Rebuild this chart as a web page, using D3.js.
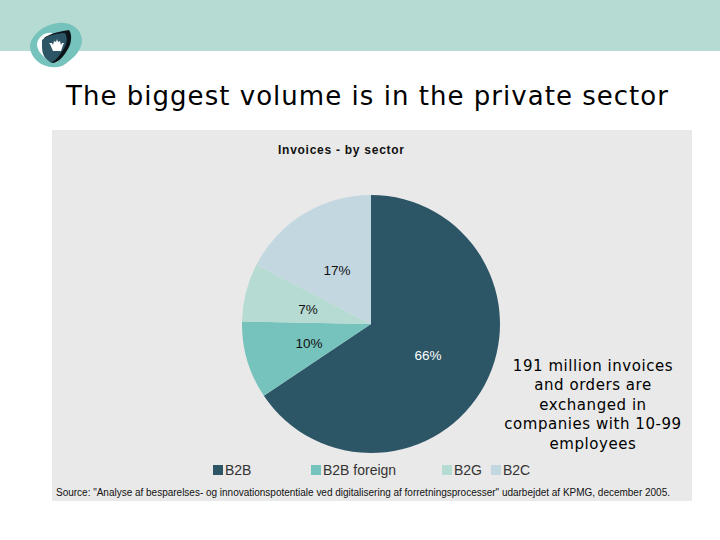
<!DOCTYPE html>
<html><head><meta charset="utf-8">
<script src="https://cdn.jsdelivr.net/npm/d3@7/dist/d3.min.js"></script>
<style>html,body{margin:0;padding:0;background:#fff}svg{display:block}</style></head>
<body><svg id="c" width="720" height="540"></svg>
<script>
const categories = ["B2B","B2B foreign","B2G","B2C"];
const values = [65.6,9.7,7.3,17.4];
const pctLabels = ["66%","10%","7%","17%"];
const colors = ["#2c5566","#76c2bc","#b6dbd3","#c3d7e1"];
const title = "The biggest volume is in the private sector";
const chartTitle = "Invoices  - by sector";
const note = ["191 million invoices","and orders are","exchanged in","companies with 10-99","employees"];
const source = "Source:  \"Analyse af besparelses- og innovationspotentiale ved digitalisering af forretningsprocesser\" udarbejdet af KPMG, december 2005.";
const legendX = [213,311,442,491];
const labelPos = [[428,355],[309,343],[308,309],[337,270]];

const svg = d3.select("#c");
const sans = "'Liberation Sans',Arial,sans-serif", ver = "'DejaVu Sans',Verdana,sans-serif";
svg.append("rect").attr("width",720).attr("height",51).attr("fill","#b6dbd3");
svg.append("rect").attr("x",52).attr("y",130).attr("width",640).attr("height",371).attr("fill","#e9e9e9");

// logo
const logo = svg.append("g");
logo.append("path").attr("d","M30 46C31 36 42 25 58 23C72 21 82 30 82 41C81 52 72 60 62 66C52 69 42 66 36 60C32 56 30 51 30 46Z").attr("fill","#76c2bc");
logo.append("path").attr("d","M37 44C38 37 45 32 52 33L58 62C52 63 47 61 44 57C40 53 37 49 37 44Z").attr("fill","#fff");
logo.append("path").attr("d","M44 38C51 33 62 31 69 30C72 34 72 42 68 49C64 56 59 62 53 63C48 62 45 56 44 50Z").attr("fill","#0b1418");
logo.append("path").attr("d","M42 40C48 35 58 33 65 33C68 38 67 44 63 50C59 56 55 62 51 62C45 60 42 54 42 47Z").attr("fill","#2c5566");
logo.append("path").attr("d","M53 51L50 44L49 43L52 43L53 45L54 41L56 42L57 39L58 42L60 41L61 45L62 43L64 43L63 45L61 51Z").attr("fill","#fff");

svg.append("text").attr("x",66).attr("y",105).attr("font-family",ver).attr("font-size",26).attr("textLength",602).attr("fill","#000").text(title);
svg.append("text").attr("x",278).attr("y",154).attr("font-family",sans).attr("font-size",12).attr("font-weight","bold").attr("fill","#111").attr("textLength",126).text(chartTitle);

const pie = d3.pie().sort(null)(values);
const arc = d3.arc().innerRadius(0).outerRadius(129);
const g = svg.append("g").attr("transform","translate(371,324)");
g.selectAll("path").data(pie).join("path").attr("d",arc).attr("fill",(d,i)=>colors[i]);

svg.selectAll("text.p").data(pctLabels).join("text").attr("class","p")
 .attr("x",(d,i)=>labelPos[i][0]).attr("y",(d,i)=>labelPos[i][1]+4.5)
 .attr("text-anchor","middle").attr("font-family",sans).attr("font-size",13.5)
 .attr("fill",(d,i)=>i==0?"#fff":"#111").text(d=>d);

svg.selectAll("text.n").data(note).join("text").attr("class","n")
 .attr("x",593).attr("y",(d,i)=>371+i*19.4).attr("text-anchor","middle")
 .attr("font-family",ver).attr("font-size",15).attr("letter-spacing","0.55px").attr("fill","#000").text(d=>d);

const lg = svg.selectAll("g.l").data(categories).join("g").attr("class","l").attr("transform",(d,i)=>`translate(${legendX[i]},465)`);
lg.append("rect").attr("width",10).attr("height",10).attr("fill",(d,i)=>colors[i]);
lg.append("text").attr("x",12).attr("y",10).attr("font-family",sans).attr("font-size",14).attr("fill","#333").text(d=>d);

svg.append("text").attr("x",56).attr("y",496).attr("font-family",sans).attr("font-size",10).attr("fill","#111").attr("textLength",614).text(source);
</script></body></html>
